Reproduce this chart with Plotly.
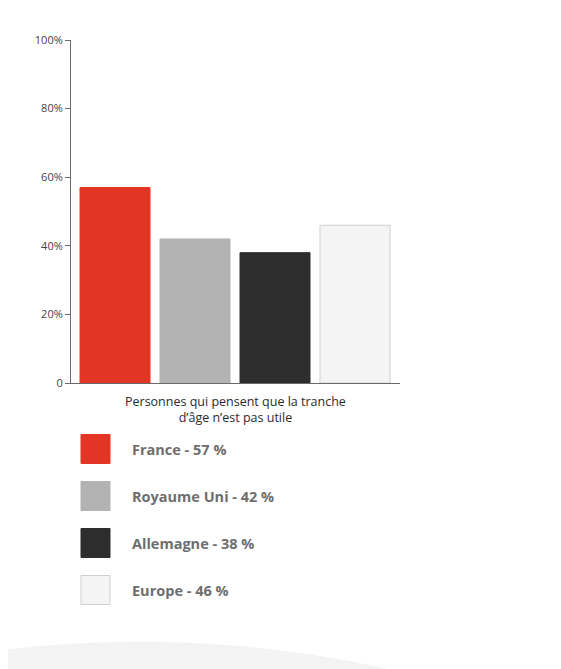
import plotly.graph_objects as go

# ---- data ----
countries = ["France", "Royaume Uni", "Allemagne", "Europe"]
values = [57, 42, 38, 46]
colors = ["#e33524", "#b3b3b3", "#2d2d2d", "#f4f4f4"]
line_colors = ["#e33524", "#b3b3b3", "#2d2d2d", "#cfcfcf"]
y_ticks = [0, 20, 40, 60, 80, 100]
y_tick_labels = ["0", "20%", "40%", "60%", "80%", "100%"]
x_title = "Personnes qui pensent que la tranche<br>d\u2019\u00e2ge n\u2019est pas utile"

W, H = 561, 669
L, R, T, B = 71, 400, 40, 383  # plot area in pixels (as seen in the page)
OFF = 8  # page body margin


def px(x):
    return (x - L) / (R - L)


def py(y):
    return (B - y) / (B - T)


fig = go.Figure()
fig.add_trace(go.Bar(
    x=list(range(len(countries))),
    y=values,
    width=0.875,
    marker=dict(color=colors, line=dict(color=line_colors, width=1)),
    hoverinfo="skip",
    showlegend=False,
))

shapes = []
annotations = []

# bottom light decorative curve
pts = [(-10, 652), (100, 636), (250, 636), (400, 672)]
curve = (f"M {px(pts[0][0])},{py(pts[0][1])} "
         f"C {px(pts[1][0])},{py(pts[1][1])} {px(pts[2][0])},{py(pts[2][1])} "
         f"{px(pts[3][0])},{py(pts[3][1])} "
         f"L {px(400)},{py(720)} L {px(-10)},{py(720)} Z")
shapes.append(dict(type="path", xref="paper", yref="paper", layer="below",
                   path=curve, fillcolor="#f3f3f3", line=dict(width=0)))

# custom legend
for i, (c, v, col, lc) in enumerate(zip(countries, values, colors, line_colors)):
    cy = 449 + i * 47
    shapes.append(dict(type="rect", xref="paper", yref="paper",
                       x0=px(81), x1=px(110), y0=py(cy - 14.5), y1=py(cy + 14.5),
                       fillcolor=col, line=dict(color=lc, width=1)))
    annotations.append(dict(xref="paper", yref="paper", x=px(130), y=py(cy),
                            xanchor="left", yanchor="middle", showarrow=False,
                            text=f"<b>{c} - {v} %</b>",
                            font=dict(family="Open Sans", size=14.5, color="#6e6e6e")))

annotations.append(dict(xref="paper", yref="paper", x=px(235), y=py(391),
                        xanchor="center", yanchor="top", showarrow=False,
                        text=x_title, align="center",
                        font=dict(family="Open Sans", size=12.5, color="#2b2b2b")))

fig.update_layout(
    width=W, height=H, autosize=False,
    margin=dict(l=L - OFF, r=W - (R - L) - (L - OFF), t=T - OFF,
                b=H - (B - T) - (T - OFF), pad=0),
    paper_bgcolor="white", plot_bgcolor="white",
    bargap=0.125,
    shapes=shapes,
    annotations=annotations,
    xaxis=dict(range=[-0.55, 3.5625], showticklabels=False, showgrid=False,
               zeroline=False, showline=True, linecolor="#6a6a6a", linewidth=1,
               ticks="", fixedrange=True),
    yaxis=dict(range=[0, 100], tickvals=y_ticks, ticktext=y_tick_labels,
               showgrid=False, zeroline=False, showline=True, linecolor="#6a6a6a",
               linewidth=1, ticks="outside", ticklen=5, tickcolor="#6a6a6a",
               tickfont=dict(family="Open Sans", size=11, color="#444444"),
               fixedrange=True),
)

fig.write_html("out.html")
